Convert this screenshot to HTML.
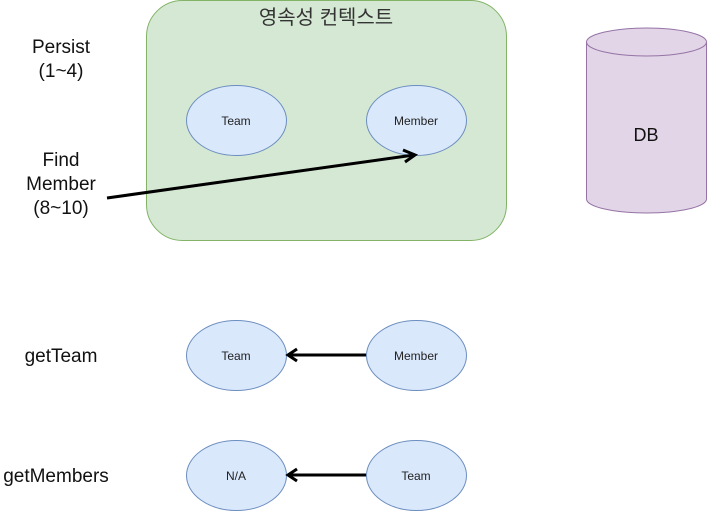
<!DOCTYPE html>
<html><head><meta charset="utf-8"><style>body{margin:0;background:#fff}</style></head><body>
<svg width="707" height="511" viewBox="0 0 707 511" xmlns="http://www.w3.org/2000/svg" font-family="Liberation Sans, Arial, sans-serif">
<rect x="146.5" y="0.5" width="360" height="240" rx="36" fill="#d5e8d4" stroke="#82b366"/>
<text x="326" y="24" font-size="20" text-anchor="middle" fill="#333" font-family="Liberation Sans, 'Noto Sans CJK KR', sans-serif">영속성 컨텍스트</text>
<g fill="#dae8fc" stroke="#6c8ebf">
<ellipse cx="236.5" cy="120.5" rx="50" ry="35"/>
<ellipse cx="416.5" cy="120.5" rx="50" ry="35"/>
<ellipse cx="236.5" cy="355.5" rx="50" ry="35"/>
<ellipse cx="416.5" cy="355.5" rx="50" ry="35"/>
<ellipse cx="236.5" cy="475.5" rx="50" ry="35"/>
<ellipse cx="416.5" cy="475.5" rx="50" ry="35"/>
</g>
<g font-size="12" text-anchor="middle" fill="#222">
<text x="236" y="125">Team</text><text x="416" y="125">Member</text>
<text x="236" y="360">Team</text><text x="416" y="360">Member</text>
<text x="236" y="480">N/A</text><text x="416" y="480">Team</text>
</g>
<path d="M586.5 42 L586.5 199 A60 14 0 0 0 706.5 199 L706.5 42 A60 14 0 0 0 586.5 42 Z" fill="#e1d5e7" stroke="#9673a6"/>
<path d="M586.5 42 A60 14 0 0 0 706.5 42" fill="none" stroke="#9673a6"/>
<text x="646" y="141" font-size="18" text-anchor="middle" fill="#111">DB</text>
<g font-size="19" text-anchor="middle" fill="#111">
<text x="61" y="53">Persist</text><text x="61" y="77">(1~4)</text>
<text x="61" y="166">Find</text><text x="61" y="190">Member</text><text x="61" y="214">(8~10)</text>
<text x="61" y="362">getTeam</text><text x="56" y="482">getMembers</text>
</g>
<g stroke="#000" stroke-width="3" fill="none">
<line x1="107" y1="198" x2="414" y2="155"/>
<path d="M403 150 L415 155 L405 162"/>
<line x1="366" y1="355" x2="289" y2="355"/>
<path d="M297 349 L288 355 L297 361"/>
<line x1="366" y1="475" x2="289" y2="475"/>
<path d="M297 469 L288 475 L297 481"/>
</g>
</svg>
</body></html>
